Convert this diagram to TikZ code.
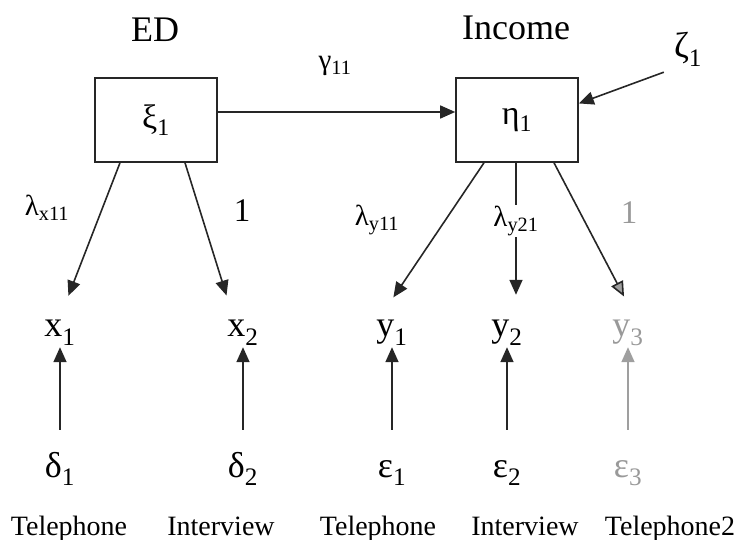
\documentclass[tikz,border=0pt]{standalone}
\usepackage{fontspec}
\setmainfont{Liberation Serif}
\usetikzlibrary{arrows.meta}

\tikzset{
    ink/.style={draw=black!85, line width=1.6pt},
    arr/.style={ink, -{Triangle[length=15pt,width=13pt]}},
    latent/.style={ink, minimum width=122pt, minimum height=84pt, inner sep=0pt,
        font=\fontsize{34}{36}\selectfont},
    title/.style={font=\fontsize{36}{40}\selectfont},
    var/.style={font=\fontsize{36}{40}\selectfont, inner sep=2pt, anchor=base,
        text height=25pt, text depth=8pt},
    coef/.style={font=\fontsize{29}{31}\selectfont, inner sep=1pt},
    one/.style={font=\fontsize{33}{36}\selectfont, inner sep=1pt},
    method/.style={font=\fontsize{28}{30}\selectfont, anchor=base},
    faded/.style={text=gray!80}
}

\begin{document}
\begin{tikzpicture}[x=1pt, y=-1pt]

\def\rowx{337}
\def\rowe{477}
\def\rowm{535}

\useasboundingbox (0,0) rectangle (748,540);

% latent variables
\node[title] (ed) at (155,30) {ED};
\node[title] (inc) at (516,28) {Income};
\node[latent] (xi) at (156,120) {ξ\textsubscript{1}};
\node[latent] (eta) at (517,120) {η\textsubscript{1}};
\node[var] (zeta) at (688,58) {ζ\textsubscript{1}};

% indicators
\node[var] (x1) at (60,\rowx) {x\textsubscript{1}};
\node[var] (x2) at (243,\rowx) {x\textsubscript{2}};
\node[var] (y1) at (392,\rowx) {y\textsubscript{1}};
\node[var] (y2) at (507,\rowx) {y\textsubscript{2}};
\node[var, faded] (y3) at (628,\rowx) {y\textsubscript{3}};

% errors
\node[var] (d1) at (60,\rowe) {δ\textsubscript{1}};
\node[var] (d2) at (243,\rowe) {δ\textsubscript{2}};
\node[var] (e1) at (392,\rowe) {ε\textsubscript{1}};
\node[var] (e2) at (507,\rowe) {ε\textsubscript{2}};
\node[var, faded] (e3) at (628,\rowe) {ε\textsubscript{3}};

% methods
\node[method] (m1) at (69,\rowm) {Telephone};
\node[method] (m2) at (221,\rowm) {Interview};
\node[method] (m3) at (378,\rowm) {Telephone};
\node[method] (m4) at (525,\rowm) {Interview};
\node[method] (m5) at (670,\rowm) {Telephone2};

% coefficients
\node[coef] (g11) at (335,66) {γ\textsubscript{11}};
\node[coef] (lx11) at (47,208) {λ\textsubscript{x11}};
\node[one] (lx21) at (242,211) {1};
\node[coef] (ly11) at (377,220) {λ\textsubscript{y11}};
\node[coef] (ly21) at (516,221) {λ\textsubscript{y21}};
\node[one, faded] (ly31) at (629,213) {1};

\draw[arr] ([yshift=8pt]xi.east) -- ([yshift=8pt]eta.west);
\draw[arr] ([xshift=-8pt,yshift=-4pt]zeta.south west) -- (eta.15);

\draw[arr, shorten >=15pt] ([xshift=-36pt]xi.south) -- ([xshift=3pt]x1.north);
\draw[arr, shorten >=15pt] ([xshift=29pt]xi.south) -- ([xshift=-12pt]x2.north);
\draw[arr, shorten >=15pt] ([xshift=-33pt]eta.south) -- ([xshift=-7pt]y1.north);
\draw[ink] (eta.south -| ly21) -- (ly21.north);
\draw[arr, shorten >=15pt] (ly21.south) -- (ly21.south |- y2.north);
\draw[arr, shorten >=15pt, -{Triangle[length=15pt,width=13pt,fill=gray!75]}]
    ([xshift=37pt]eta.south) -- ([xshift=3pt]y3.north);

\foreach \e/\v in {d1/x1, d2/x2, e1/y1, e2/y2} {
    \draw[arr] ([yshift=20pt]\e.north) -- (\v.south);
}
\draw[arr, draw=gray!75] ([yshift=20pt]e3.north) -- (y3.south);

\end{tikzpicture}
\end{document}
